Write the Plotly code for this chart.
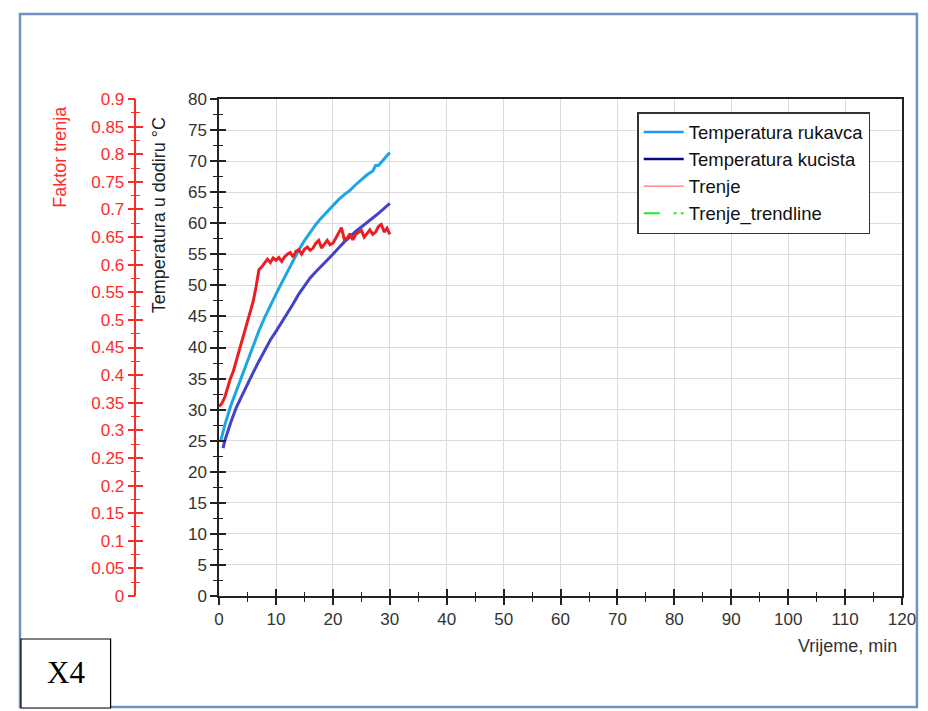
import plotly.graph_objects as go

# ---------------- data ----------------
time_rukavca = [0.3, 1, 2, 3, 4, 5, 6, 7, 8, 9, 10, 11, 12, 13, 14, 15, 16, 17, 18, 19, 20,
                21, 22, 23, 24, 25, 26, 27, 27.5, 28, 29, 30]
temp_rukavca = [25.0, 27.5, 30.5, 33.0, 35.3, 37.8, 40.3, 42.7, 44.8, 46.8, 48.6, 50.4, 52.2,
                54.0, 55.7, 57.2, 58.6, 59.8, 60.9, 61.9, 62.9, 63.8, 64.6, 65.3, 66.2, 67.0,
                67.8, 68.4, 69.3, 69.3, 70.3, 71.4]

time_kucista = [0.7, 1, 2, 3, 4, 5, 6, 7, 8, 9, 10, 11, 12, 13, 14, 15, 16, 17, 18, 19, 20,
                21, 22, 23, 24, 25, 26, 27, 28, 29, 30]
temp_kucista = [23.8, 25.0, 27.8, 30.3, 32.2, 34.2, 36.0, 37.8, 39.6, 41.2, 42.6, 44.0, 45.4,
                47.0, 48.6, 50.0, 51.2, 52.2, 53.1, 54.0, 55.0, 56.0, 57.0, 57.8, 58.7, 59.4,
                60.1, 60.8, 61.6, 62.4, 63.2]

time_trenje = [0, 0.5, 1, 1.5, 2, 2.5, 3, 3.5, 4, 4.5, 5, 5.5, 6, 6.5, 7, 7.5, 8, 8.5, 9, 9.5,
               10, 10.5, 11, 11.5, 12, 12.5, 13, 13.5, 14, 14.5, 15, 15.5, 16, 16.5, 17, 17.5,
               18, 18.5, 19, 19.5, 20, 20.5, 21, 21.5, 22, 22.5, 23, 23.5, 24, 24.5, 25, 25.5,
               26, 26.5, 27, 27.5, 28, 28.5, 29, 29.5, 30]
faktor_trenja = [0.343, 0.349, 0.360, 0.379, 0.394, 0.407, 0.425, 0.441, 0.459, 0.476, 0.495,
                 0.515, 0.534, 0.560, 0.591, 0.596, 0.602, 0.610, 0.604, 0.612, 0.608, 0.613,
                 0.606, 0.614, 0.619, 0.622, 0.614, 0.624, 0.627, 0.619, 0.628, 0.632, 0.626,
                 0.630, 0.639, 0.644, 0.630, 0.637, 0.644, 0.636, 0.639, 0.648, 0.659, 0.667,
                 0.646, 0.648, 0.656, 0.645, 0.655, 0.658, 0.662, 0.650, 0.656, 0.663, 0.655,
                 0.659, 0.669, 0.673, 0.659, 0.666, 0.655]

legend_names = ["Temperatura rukavca", "Temperatura kucista", "Trenje", "Trenje_trendline"]

# ---------------- geometry helpers (pixels -> paper) ----------------
W, H = 928, 711
ML, MR, MT, MB = 20, 22, 99, 115
PW = W - ML - MR
PH = H - MT - MB


def px(x):
    return (x - ML) / PW


def py(y):
    return (H - MB - y) / PH


FONT = "Liberation Sans, Arial, sans-serif"
AX = "#222222"
RED = "#ff2b2b"

fig = go.Figure()

fig.add_trace(go.Scatter(x=time_rukavca, y=temp_rukavca, mode="lines",
                         line=dict(color="#1ea5e6", width=3), showlegend=False,
                         xaxis="x", yaxis="y"))
fig.add_trace(go.Scatter(x=time_kucista, y=temp_kucista, mode="lines",
                         line=dict(color="#4343c9", width=3), showlegend=False,
                         xaxis="x", yaxis="y"))
fig.add_trace(go.Scatter(x=time_trenje, y=faktor_trenja, mode="lines",
                         line=dict(color="#ee1d24", width=3), showlegend=False,
                         xaxis="x", yaxis="y2"))

# legend entries
leg_styles = [dict(color="#2196f3", width=2.5),
              dict(color="#0a0a80", width=2.5),
              dict(color="#ff5050", width=1),
              dict(color="#22ee22", width=2, dash="16px,14px,3px,4px")]
for name, st in zip(legend_names, leg_styles):
    fig.add_trace(go.Scatter(x=[None], y=[None], mode="lines", name=name, line=st,
                             xaxis="x", yaxis="y"))

# helper traces so overlay axes get drawn
fig.add_trace(go.Scatter(x=[None], y=[None], xaxis="x2", yaxis="y", showlegend=False))
fig.add_trace(go.Scatter(x=[None], y=[None], xaxis="x", yaxis="y3", showlegend=False))
fig.add_trace(go.Scatter(x=[None], y=[None], xaxis="x", yaxis="y4", showlegend=False))

dom = [px(220), 1]
tickfont = dict(family=FONT, size=17, color="#333333")

fig.update_layout(
    width=W, height=H,
    margin=dict(l=ML, r=MR, t=MT, b=MB, pad=0),
    paper_bgcolor="white", plot_bgcolor="white",
    font=dict(family=FONT, size=17, color="#222"),
    xaxis=dict(domain=dom, range=[0, 120], tick0=0, dtick=10, ticks="outside", ticklen=7,
               tickwidth=1.5, tickcolor=AX, showline=True, linecolor=AX, linewidth=2,
               mirror=True, showgrid=True, gridcolor="#dcdcdc", gridwidth=1, zeroline=False,
               tickfont=tickfont,
               minor=dict(dtick=5, ticks="outside", ticklen=4, tickcolor=AX, tickwidth=1.2,
                          showgrid=False)),
    xaxis2=dict(overlaying="x", anchor="y", side="bottom", range=[0, 120], tick0=0, dtick=10,
                ticks="inside", ticklen=7, tickwidth=1.5, tickcolor=AX, showticklabels=False,
                showgrid=False, showline=False, zeroline=False,
                minor=dict(dtick=5, ticks="inside", ticklen=4, tickcolor=AX, tickwidth=1.2,
                           showgrid=False)),
    yaxis=dict(domain=[0, 1], anchor="x", range=[0, 80], tick0=0, dtick=5, ticks="outside",
               ticklen=7, tickwidth=1.5, tickcolor=AX, showline=True, linecolor=AX,
               linewidth=1.5, mirror=True, showgrid=True, gridcolor="#dcdcdc", gridwidth=1,
               zeroline=False, tickfont=tickfont,
               minor=dict(dtick=2.5, ticks="outside", ticklen=4, tickcolor=AX, tickwidth=1.2,
                          showgrid=False)),
    yaxis3=dict(overlaying="y", anchor="x", side="left", range=[0, 80], tick0=0, dtick=5,
                ticks="inside", ticklen=7, tickwidth=1.5, tickcolor=AX, showticklabels=False,
                showgrid=False, showline=False, zeroline=False,
                minor=dict(dtick=2.5, ticks="inside", ticklen=4, tickcolor=AX, tickwidth=1.2,
                           showgrid=False)),
    yaxis2=dict(overlaying="y", anchor="free", position=px(136), side="left",
                range=[0, 0.9], tick0=0, dtick=0.05, ticks="outside", ticklen=7,
                tickwidth=1.5, tickcolor=RED, showline=True, linecolor=RED, linewidth=1.5,
                showgrid=False, zeroline=False,
                tickfont=dict(family=FONT, size=17, color=RED),
                minor=dict(dtick=0.025, ticks="outside", ticklen=4, tickcolor=RED,
                           tickwidth=1.2, showgrid=False)),
    yaxis4=dict(overlaying="y", anchor="free", position=px(136), side="left",
                range=[0, 0.9], tick0=0, dtick=0.05, ticks="inside", ticklen=7,
                tickwidth=1.5, tickcolor=RED, showticklabels=False, showline=False,
                showgrid=False, zeroline=False,
                minor=dict(dtick=0.025, ticks="inside", ticklen=4, tickcolor=RED,
                           tickwidth=1.2, showgrid=False)),
    legend=dict(x=px(640), y=py(112), xanchor="left", yanchor="top", bgcolor="white",
                bordercolor="#333333", borderwidth=1.5, itemwidth=40,
                font=dict(family=FONT, size=18.5, color="#111111"), tracegroupgap=0),
    showlegend=True,
)

fig.add_annotation(text="Faktor trenja", x=px(60), y=py(157), xref="paper", yref="paper",
                   textangle=-90, showarrow=False, xanchor="center", yanchor="middle",
                   font=dict(family=FONT, size=18, color=RED))
fig.add_annotation(text="Temperatura u dodiru °C", x=px(160), y=py(215), xref="paper",
                   yref="paper", textangle=-90, showarrow=False, xanchor="center",
                   yanchor="middle", font=dict(family=FONT, size=18, color="#222222"))
fig.add_annotation(text="Vrijeme, min", x=px(903), y=py(646), xref="paper", yref="paper",
                   showarrow=False, xanchor="right", yanchor="middle",
                   font=dict(family=FONT, size=18, color="#333333"))

# outer frame and X4 label box
fig.add_shape(type="rect", xref="paper", yref="paper", x0=px(20), x1=px(921), y0=py(707),
              y1=py(14), line=dict(color="#7090c4", width=2.5), fillcolor="rgba(0,0,0,0)")
fig.add_shape(type="rect", xref="paper", yref="paper", x0=px(21), x1=px(111), y0=py(708),
              y1=py(639), line=dict(color="black", width=1.2), fillcolor="white")
fig.add_annotation(text="X4", x=px(66), y=py(672), xref="paper", yref="paper",
                   showarrow=False, xanchor="center", yanchor="middle",
                   font=dict(family="Liberation Serif, Times New Roman, serif", size=31,
                             color="black"))

fig.write_html("out.html", config={"displayModeBar": False},
               post_script="document.body.style.margin='0';document.body.style.overflow='hidden';")
